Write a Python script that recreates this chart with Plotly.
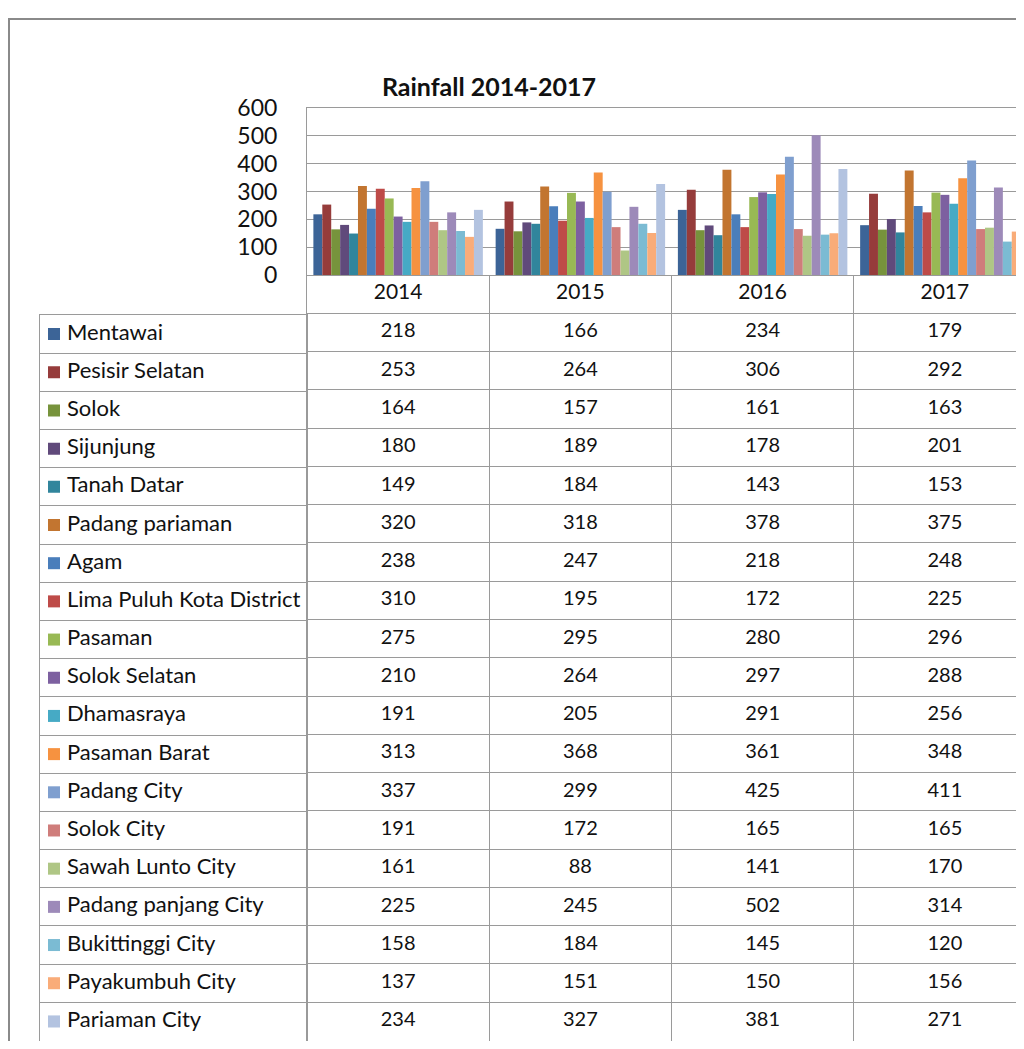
import plotly.graph_objects as go

years = ["2014", "2015", "2016", "2017"]
districts = [
    "Mentawai", "Pesisir Selatan", "Solok", "Sijunjung", "Tanah Datar",
    "Padang pariaman", "Agam", "Lima Puluh Kota District", "Pasaman",
    "Solok Selatan", "Dhamasraya", "Pasaman Barat", "Padang City",
    "Solok City", "Sawah Lunto City", "Padang panjang City",
    "Bukittinggi City", "Payakumbuh City", "Pariaman City",
]
rain_2014 = [218, 253, 164, 180, 149, 320, 238, 310, 275, 210, 191, 313, 337, 191, 161, 225, 158, 137, 234]
rain_2015 = [166, 264, 157, 189, 184, 318, 247, 195, 295, 264, 205, 368, 299, 172, 88, 245, 184, 151, 327]
rain_2016 = [234, 306, 161, 178, 143, 378, 218, 172, 280, 297, 291, 361, 425, 165, 141, 502, 145, 150, 381]
rain_2017 = [179, 292, 163, 201, 153, 375, 248, 225, 296, 288, 256, 348, 411, 165, 170, 314, 120, 156, 271]

colors = [
    "#3C6497", "#963C3B", "#77933C", "#604A7B", "#31859C", "#C27530",
    "#4A7EBB", "#BE4B48", "#98B954", "#7D60A0", "#46AAC5", "#F69240",
    "#7F9FCF", "#CF7D7B", "#AFC685", "#9D8AB9", "#7BBBD3", "#F9AC79",
    "#B3C3E0",
]

# page body keeps an 8px margin, so the figure is drawn 8px in
OFF = 8
W, H = 1024 - 2 * OFF, 1049 - 2 * OFF
FONT = "Lato"
GRID = "#9A9A9A"
TABLE_BOTTOM = 1040.5
by_year = [rain_2014, rain_2015, rain_2016, rain_2017]


def px_x(v):
    return (v - OFF) / W


def px_y(v):
    return 1 - (v - OFF) / H


fig = go.Figure()

# clustered bars
for i, name in enumerate(districts):
    fig.add_trace(go.Bar(
        x=years, y=[col[i] for col in by_year], name=name,
        marker=dict(color=colors[i], line=dict(width=0)),
        xaxis="x", yaxis="y", showlegend=False,
    ))

# data table values + year header row
header_key = " "
for j, yr in enumerate(years):
    fig.add_trace(go.Scatter(
        x=[yr] * (len(districts) + 1), y=[header_key] + districts,
        text=[yr] + [str(v) for v in by_year[j]],
        mode="text", textposition="middle center",
        textfont=dict(family=FONT, size=[21] + [20] * len(districts), color="#111"),
        xaxis="x2", yaxis="y2", showlegend=False, hoverinfo="skip",
    ))

# legend keys column
fig.add_trace(go.Scatter(
    x=[(54 - 40) / 267] * len(districts), y=districts,
    mode="markers", marker=dict(symbol="square", size=12, color=colors),
    xaxis="x3", yaxis="y3", showlegend=False, hoverinfo="skip",
))
fig.add_trace(go.Scatter(
    x=[(67 - 40) / 267] * len(districts), y=districts, text=districts,
    mode="text", textposition="middle right",
    textfont=dict(family=FONT, size=22, color="#111"),
    xaxis="x3", yaxis="y3", showlegend=False, hoverinfo="skip",
))

x_end = -0.5 + (W + OFF - 307) / 182.25

fig.update_layout(
    width=W, height=H,
    margin=dict(l=0, r=0, t=0, b=0, autoexpand=False),
    paper_bgcolor="white", plot_bgcolor="rgba(0,0,0,0)",
    font=dict(family=FONT, color="#111"),
    barmode="group", bargap=0.07, bargroupgap=0,
    title=dict(text="<b>Rainfall 2014-2017</b>", x=px_x(489), y=px_y(87),
               xanchor="center", yanchor="middle", automargin=False,
               font=dict(family=FONT, size=25, color="#111")),
    xaxis=dict(domain=[px_x(307), 1], type="category", categoryarray=years,
               range=[-0.5, x_end], showticklabels=False, showgrid=False,
               showline=True, mirror=True, linecolor=GRID, linewidth=1,
               anchor="y", automargin=False, fixedrange=True),
    yaxis=dict(domain=[px_y(275), px_y(108)], range=[0, 600], dtick=100,
               showgrid=True, gridcolor=GRID, gridwidth=1, zeroline=False,
               showline=True, linecolor=GRID, ticks="",
               tickfont=dict(family=FONT, size=23, color="#111"),
               ticklabelstandoff=24, anchor="x", automargin=False,
               fixedrange=True),
    xaxis2=dict(domain=[px_x(307), 1], type="category", categoryarray=years,
                range=[-0.5, x_end], tickson="boundaries", showgrid=True,
                gridcolor=GRID, showticklabels=False, ticks="",
                showline=True, linecolor=GRID, zeroline=False,
                anchor="y2", automargin=False, fixedrange=True),
    yaxis2=dict(domain=[px_y(TABLE_BOTTOM), px_y(275)], type="category",
                categoryarray=[header_key] + districts,
                range=[len(districts) + 0.5, -0.5], tickson="boundaries",
                showgrid=True, gridcolor=GRID, showticklabels=False, ticks="",
                showline=True, linecolor=GRID, zeroline=False,
                anchor="x2", automargin=False, fixedrange=True),
    xaxis3=dict(domain=[px_x(40), px_x(307)], range=[0, 1],
                showgrid=False, showticklabels=False, ticks="", zeroline=False,
                showline=True, mirror=True, linecolor=GRID,
                anchor="y3", automargin=False, fixedrange=True),
    yaxis3=dict(domain=[px_y(TABLE_BOTTOM), px_y(315)], type="category",
                categoryarray=districts,
                range=[len(districts) - 0.5, -0.5], tickson="boundaries",
                showgrid=True, gridcolor=GRID, showticklabels=False, ticks="",
                showline=True, mirror=True, linecolor=GRID, zeroline=False,
                anchor="x3", automargin=False, fixedrange=True),
    # chart-area frame (left edge sits on the figure's first pixels)
    shapes=[dict(type="rect", xref="paper", yref="paper",
                 x0=px_x(9), x1=1.2, y0=-0.2, y1=px_y(19),
                 line=dict(color="#8A8A8A", width=2), layer="below")],
)

fig.write_html("out.html")
